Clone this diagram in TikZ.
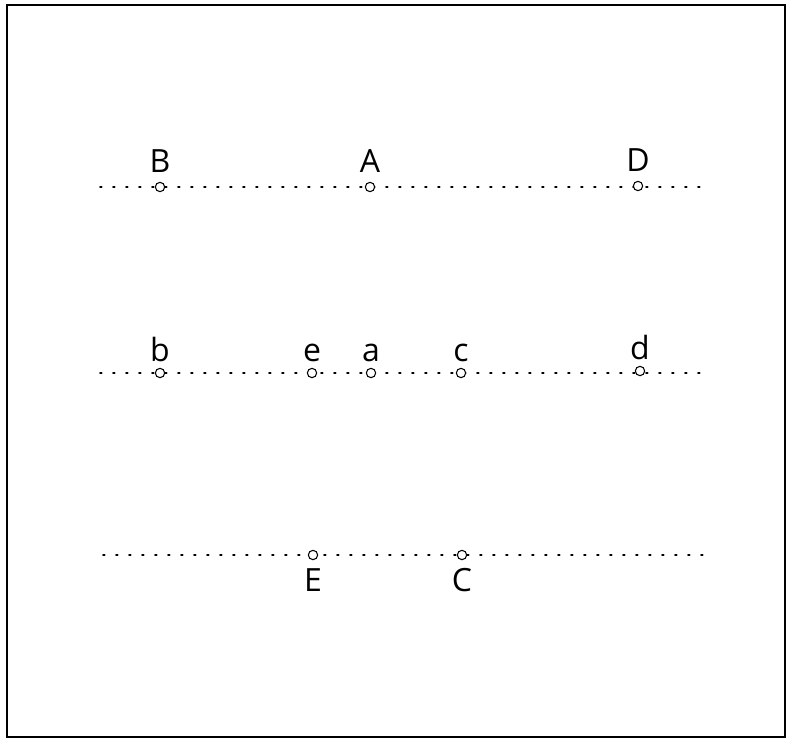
\documentclass[tikz,border=0pt]{standalone}
\usepackage{fontspec}
\setmainfont{Open Sans}
\usetikzlibrary{positioning}

\begin{document}
\begin{tikzpicture}[x=0.75pt, y=-0.75pt,
        pt/.style={circle, draw, thick, fill=white, inner sep=0pt, minimum size=7pt},
        rowline/.style={line width=1.3pt, dash pattern=on 1.3pt off 8.45pt, line cap=round},
        lbl/.style={font=\fontsize{24}{26}\selectfont, inner sep=1pt},
    ]
        \useasboundingbox (0,0) rectangle (786,740);
        \draw[line width=1pt] (7,5) rectangle (785,737);

        % end points of the three rows
        \coordinate (l1) at (100,187);
        \coordinate (r1) at (702,187);
        \coordinate (l2) at (100,373);
        \coordinate (r2) at (702,373);
        \coordinate (l3) at (103,555);
        \coordinate (r3) at (706,555);

        \draw[rowline] (l1) -- (r1);
        \draw[rowline] (l2) -- (r2);
        \draw[rowline] (l3) -- (r3);

        % upper row
        \node[pt] (B) at (160,187) {};
        \node[pt] (A) at (370,187) {};
        \node[pt] (D) at (638,186) {};
        \node[lbl, above=6pt of B] {B};
        \node[lbl, above=6pt of A] {A};
        \node[lbl, above=6pt of D] {D};

        % middle row
        \node[pt] (b) at (160,373) {};
        \node[pt] (e) at (312,373) {};
        \node[pt] (a) at (371,373) {};
        \node[pt] (c) at (461,373) {};
        \node[pt] (d) at (640,371) {};
        \node[lbl, anchor=base] at ([yshift=4.5pt]b.north) {b};
        \node[lbl, anchor=base] at ([yshift=4.5pt]e.north) {e};
        \node[lbl, anchor=base] at ([yshift=4.5pt]a.north) {a};
        \node[lbl, anchor=base] at ([yshift=4.5pt]c.north) {c};
        \node[lbl, anchor=base] at ([yshift=4.5pt]d.north) {d};

        % lower row
        \node[pt] (E) at (313,555) {};
        \node[pt] (C) at (462,555) {};
        \node[lbl, below=5pt of E] {E};
        \node[lbl, below=5pt of C] {C};
    \end{tikzpicture}
\end{document}
